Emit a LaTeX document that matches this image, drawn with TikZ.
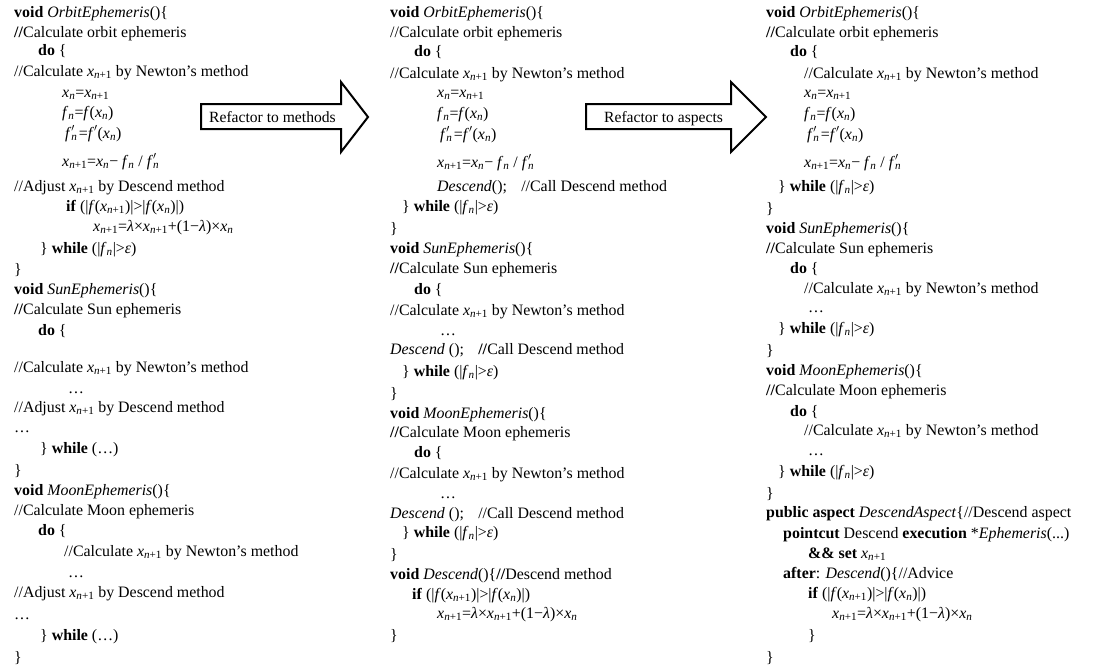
\documentclass[tikz,border=0pt]{standalone}
\usepackage{fontspec}
\setmainfont{Liberation Serif}
\newcommand\Xs[1]{\textit{x}\textsubscript{#1}}
\newcommand\Xn{\Xs{\textit{n}}}
\newcommand\Xnn{\Xs{\textit{n}+1}}
\newcommand\Fn{\textit{f}\textsubscript{\textit{n}}}
\newcommand\Fpn{\textit{f}\rlap{\textsubscript{\textit{n}}}$'$}
\newcommand\codeline[4]{\node[codetext] (#1) at (#2,{#3+5}) {#4};}
\tikzset{
  codetext/.style={anchor=base west, inner sep=0pt, font=\fontsize{15.9}{18}\selectfont},
  blockarrow/.style={draw=black, line width=2pt, line join=miter, fill=white},
  arrowlbl/.style={anchor=base west, inner sep=0pt, font=\fontsize{15.6}{18}\selectfont}
}
\begin{document}
\begin{tikzpicture}[x=1pt,y=-1pt]
\useasboundingbox[fill=white] (0,0) rectangle (1105,665);
% ---------- arrows ----------
\draw[blockarrow] (201,104) coordinate (a1s) -- (341,104) -- (341,82) -- (368,117) coordinate (a1t) -- (341,152) -- (341,129) -- (201,129) -- cycle;
\node[arrowlbl] (a1l) at (209,122) {Refactor to methods};
\draw[blockarrow] (586,104) coordinate (a2s) -- (731,104) -- (731,82) -- (766,117) coordinate (a2t) -- (731,152) -- (731,129) -- (586,129) -- cycle;
\node[arrowlbl] (a2l) at (604,122) {Refactor to aspects};
% ---------- column 1 ----------
\codeline{c1a}{14}{12}{\textbf{void} \textit{OrbitEphemeris}()\{}
\codeline{c1b}{14}{32}{\textbf{//}Calculate orbit ephemeris}
\codeline{c1c}{38}{50}{\textbf{do} \{}
\codeline{c1d}{14}{71}{//Calculate \Xnn{} by Newton’s method}
\codeline{c1e}{62}{92}{\Xn=\Xnn}
\codeline{c1f}{62}{112}{\Fn=\textit{f}(\Xn)}
\codeline{c1g}{65}{133}{\Fpn{} =\textit{f}$'$(\Xn)}
\codeline{c1h}{62}{161}{\Xnn=\Xn− \Fn{} / \Fpn}
\codeline{c1i}{14}{186}{//Adjust \Xnn{} by Descend method}
\codeline{c1j}{66}{206}{\textbf{if} (|\textit{f}(\Xnn)|>|\textit{f}(\Xn)|)}
\codeline{c1k}{93}{226}{\Xnn=\textit{λ}×\Xnn+(1−\textit{λ})×\Xn}
\codeline{c1l}{40}{248}{\} \textbf{while} (|\Fn|>\textit{ε})}
\codeline{c1m}{14}{269}{\}}
\codeline{c1n}{14}{289}{\textbf{void} \textit{SunEphemeris}()\{}
\codeline{c1o}{14}{309}{\textbf{//}Calculate Sun ephemeris}
\codeline{c1p}{38}{330}{\textbf{do} \{}
\codeline{c1q}{14}{367}{//Calculate \Xnn{} by Newton’s method}
\codeline{c1r}{68}{388}{…}
\codeline{c1s}{14}{407}{//Adjust \Xnn{} by Descend method}
\codeline{c1t}{14}{427}{…}
\codeline{c1u}{40}{448}{\} \textbf{while} (…)}
\codeline{c1v}{14}{470}{\}}
\codeline{c1w}{14}{490}{\textbf{void} \textit{MoonEphemeris}()\{}
\codeline{c1x}{14}{510}{//Calculate Moon ephemeris}
\codeline{c1y}{38}{530}{\textbf{do} \{}
\codeline{c1z}{64}{551}{//Calculate \Xnn{} by Newton’s method}
\codeline{c1A}{68}{572}{…}
\codeline{c1B}{14}{592}{//Adjust \Xnn{} by Descend method}
\codeline{c1C}{14}{614}{…}
\codeline{c1D}{40}{635}{\} \textbf{while} (…)}
\codeline{c1E}{14}{657}{\}}
% ---------- column 2 ----------
\codeline{c2a}{390}{12}{\textbf{void} \textit{OrbitEphemeris}()\{}
\codeline{c2b}{390}{32}{//Calculate orbit ephemeris}
\codeline{c2c}{414}{51}{\textbf{do} \{}
\codeline{c2d}{390}{73}{//Calculate \Xnn{} by Newton’s method}
\codeline{c2e}{437}{92}{\Xn=\Xnn}
\codeline{c2f}{437}{113}{\Fn=\textit{f}(\Xn)}
\codeline{c2g}{440}{134}{\Fpn{} =\textit{f}$'$(\Xn)}
\codeline{c2h}{437}{162}{\Xnn=\Xn− \Fn{} / \Fpn}
\codeline{c2i}{437}{186}{\textit{Descend}();\hspace{0.9em}//Call Descend method}
\codeline{c2j}{402}{206}{\} \textbf{while} (|\Fn|>\textit{ε})}
\codeline{c2k}{390}{228}{\}}
\codeline{c2l}{390}{248}{\textbf{void} \textit{SunEphemeris}()\{}
\codeline{c2m}{390}{268}{\textbf{//}Calculate Sun ephemeris}
\codeline{c2n}{414}{289}{\textbf{do} \{}
\codeline{c2o}{390}{310}{//Calculate \Xnn{} by Newton’s method}
\codeline{c2p}{440}{330}{…}
\codeline{c2q}{390}{349}{\textit{Descend} ();\hspace{0.9em}\textbf{//}Call Descend method}
\codeline{c2r}{402}{371}{\} \textbf{while} (|\Fn|>\textit{ε})}
\codeline{c2s}{390}{393}{\}}
\codeline{c2t}{390}{413}{\textbf{void} \textit{MoonEphemeris}()\{}
\codeline{c2u}{390}{432}{\textbf{//}Calculate Moon ephemeris}
\codeline{c2v}{414}{452}{\textbf{do} \{}
\codeline{c2w}{390}{473}{//Calculate \Xnn{} by Newton’s method}
\codeline{c2x}{440}{493}{…}
\codeline{c2y}{390}{513}{\textit{Descend} ();\hspace{0.9em}//Call Descend method}
\codeline{c2z}{402}{532}{\} \textbf{while} (|\Fn|>\textit{ε})}
\codeline{c2A}{390}{554}{\}}
\codeline{c2B}{390}{574}{\textbf{void} \textit{Descend}()\{\textbf{//}Descend method}
\codeline{c2C}{412}{594}{\textbf{if} (|\textit{f}(\Xnn)|>|\textit{f}(\Xn)|)}
\codeline{c2D}{437}{613}{\Xnn=\textit{λ}×\Xnn+(1−\textit{λ})×\Xn}
\codeline{c2E}{390}{635}{\}}
% ---------- column 3 ----------
\codeline{c3a}{766}{12}{\textbf{void} \textit{OrbitEphemeris}()\{}
\codeline{c3b}{766}{32}{\textbf{//}Calculate orbit ephemeris}
\codeline{c3c}{790}{51}{\textbf{do} \{}
\codeline{c3d}{804}{73}{//Calculate \Xnn{} by Newton’s method}
\codeline{c3e}{804}{92}{\Xn=\Xnn}
\codeline{c3f}{804}{113}{\Fn=\textit{f}(\Xn)}
\codeline{c3g}{807}{134}{\Fpn{} =\textit{f}$'$(\Xn)}
\codeline{c3h}{804}{162}{\Xnn=\Xn− \Fn{} / \Fpn}
\codeline{c3i}{778}{186}{\} \textbf{while} (|\Fn|>\textit{ε})}
\codeline{c3j}{766}{208}{\}}
\codeline{c3k}{766}{228}{\textbf{void} \textit{SunEphemeris}()\{}
\codeline{c3l}{766}{248}{\textbf{//}Calculate Sun ephemeris}
\codeline{c3m}{790}{268}{\textbf{do} \{}
\codeline{c3n}{804}{288}{//Calculate \Xnn{} by Newton’s method}
\codeline{c3o}{808}{307}{…}
\codeline{c3p}{778}{328}{\} \textbf{while} (|\Fn|>\textit{ε})}
\codeline{c3q}{766}{350}{\}}
\codeline{c3r}{766}{370}{\textbf{void} \textit{MoonEphemeris}()\{}
\codeline{c3s}{766}{390}{\textbf{//}Calculate Moon ephemeris}
\codeline{c3t}{790}{411}{\textbf{do} \{}
\codeline{c3u}{804}{430}{//Calculate \Xnn{} by Newton’s method}
\codeline{c3v}{808}{450}{…}
\codeline{c3w}{778}{471}{\} \textbf{while} (|\Fn|>\textit{ε})}
\codeline{c3x}{766}{493}{\}}
\codeline{c3y}{766}{512}{\textbf{public aspect} \textit{DescendAspect}\{//Descend aspect}
\codeline{c3z}{783}{533}{\textbf{pointcut} Descend \textbf{execution} *\textit{Ephemeris}(...)}
\codeline{c3A}{808}{553}{\textbf{\&\& set} \Xnn}
\codeline{c3B}{783}{573}{\textbf{after}: \textit{Descend}()\{//Advice}
\codeline{c3C}{808}{593}{\textbf{if} (|\textit{f}(\Xnn)|>|\textit{f}(\Xn)|)}
\codeline{c3D}{832}{613}{\Xnn=\textit{λ}×\Xnn+(1−\textit{λ})×\Xn}
\codeline{c3E}{808}{635}{\}}
\codeline{c3F}{766}{657}{\}}
\end{tikzpicture}
\end{document}
